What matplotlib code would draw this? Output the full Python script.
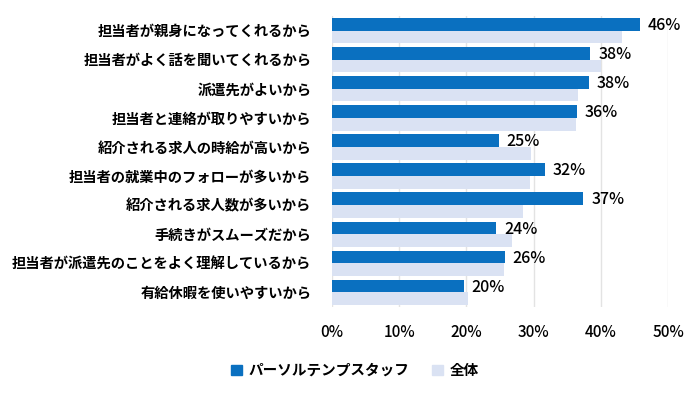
import matplotlib
matplotlib.use("Agg")
import matplotlib.pyplot as plt
import numpy as np
from matplotlib.patches import Patch

plt.rcParams['font.family'] = ['Noto Sans CJK JP', 'DejaVu Sans']

# data
reasons = [
    '担当者が親身になってくれるから',
    '担当者がよく話を聞いてくれるから',
    '派遣先がよいから',
    '担当者と連絡が取りやすいから',
    '紹介される求人の時給が高いから',
    '担当者の就業中のフォローが多いから',
    '紹介される求人数が多いから',
    '手続きがスムーズだから',
    '担当者が派遣先のことをよく理解しているから',
    '有給休暇を使いやすいから',
]
persol = [45.8, 38.4, 38.2, 36.4, 24.8, 31.7, 37.4, 24.4, 25.7, 19.6]
overall = [43.2, 40.0, 36.6, 36.3, 29.6, 29.4, 28.4, 26.8, 25.6, 20.3]
series_names = ['パーソルテンプスタッフ', '全体']
x_ticks = [0, 10, 20, 30, 40, 50]

blue = '#0a70c0'
light = '#dae2f3'

fig = plt.figure(figsize=(7, 3.97), dpi=100)
ax = fig.add_axes([0.4743, 0.2267, 0.48, 0.733])

y = np.arange(len(reasons))
h = 0.436
ax.barh(y - h / 2, persol, height=h, color=blue, zorder=3)
ax.barh(y + h / 2, overall, height=h, color=light, zorder=3)

for yi, v in zip(y, persol):
    ax.text(v + 1.2, yi - h / 2 + 0.04, f'{round(v)}%', va='center', ha='left',
            fontsize=11.5, fontweight='medium', color='black', zorder=4)

ax.set_xlim(0, 50)
ax.set_ylim(len(reasons) - 0.5, -0.5)
ax.set_yticks(y)
ax.set_yticklabels(reasons, fontsize=10.3, fontweight='bold')
ax.set_xticks(x_ticks)
ax.set_xticklabels([f'{t}%' for t in x_ticks], fontsize=11, fontweight='medium')
ax.tick_params(axis='y', length=0, pad=15)
ax.tick_params(axis='x', length=0, pad=12)
ax.grid(axis='x', color='#e3e3e3', linewidth=1, zorder=0)
for s in ax.spines.values():
    s.set_visible(False)

handles = [Patch(color=blue), Patch(color=light)]
fig.legend(handles, series_names, loc='center', bbox_to_anchor=(0.507, 0.068),
           ncol=2, frameon=False, handlelength=0.75, handleheight=0.75,
           handletextpad=0.45, columnspacing=1.6,
           prop={'size': 10.5, 'weight': 'bold'})

fig.savefig('out.png', dpi=100)
